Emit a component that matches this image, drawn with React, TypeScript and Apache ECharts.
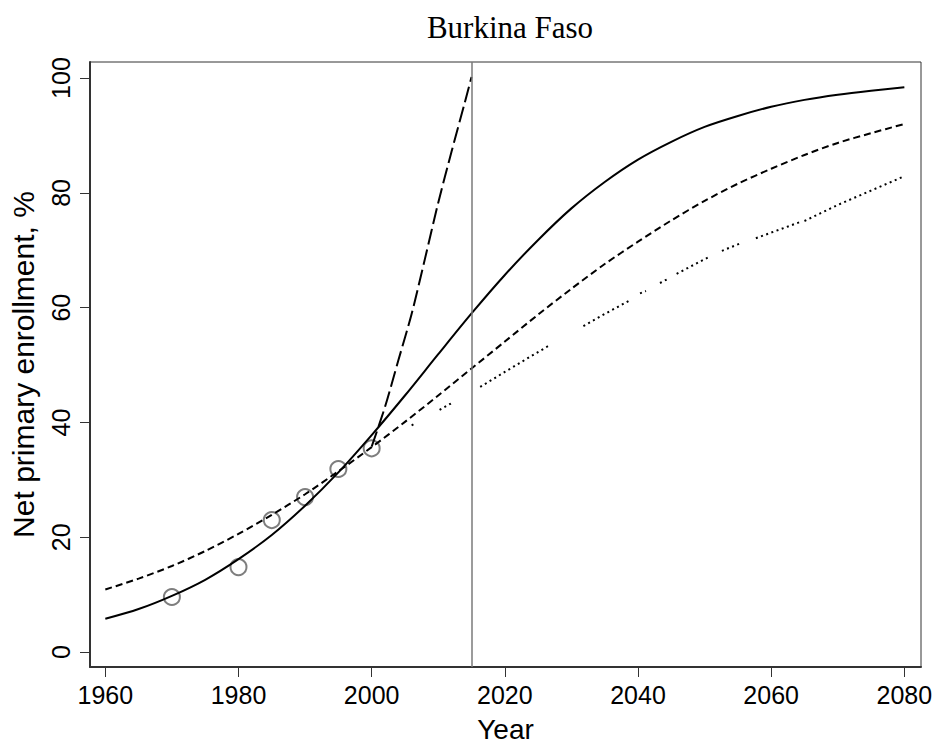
import React, { useEffect, useRef } from "react";
import * as echarts from "echarts";

// ---- data ----
const fitYears = [1960, 1965, 1970, 1975, 1980, 1985, 1990, 1995, 2000, 2005, 2010, 2015, 2020, 2025, 2030, 2035, 2040, 2045, 2050, 2055, 2060, 2065, 2070, 2075, 2080];
const solidFit = [5.8, 7.5, 9.8, 12.6, 16.2, 20.4, 25.5, 31.3, 37.8, 44.7, 51.9, 59.0, 65.7, 71.8, 77.3, 81.9, 85.8, 88.9, 91.5, 93.4, 95.0, 96.2, 97.1, 97.8, 98.4];
const dashedFit = [10.9, 12.8, 15.0, 17.6, 20.6, 23.9, 27.5, 31.5, 35.7, 40.1, 44.7, 49.4, 54.1, 58.8, 63.3, 67.6, 71.5, 75.2, 78.6, 81.6, 84.2, 86.6, 88.7, 90.4, 92.0];

const targetYears = [2000, 2002, 2004, 2006, 2008, 2010, 2012, 2014, 2015];
const targetValues = [35.8, 42.7, 50.8, 58.9, 68.5, 78.3, 87.2, 95.8, 100.2];

// dotted trend, as drawn (with visible breaks)
const dottedYears = [2006.0, 2006.7, 2008, 2010.2, 2011.9, 2014, 2016.3, 2020, 2024, 2026.5, 2029, 2031.8, 2035, 2038.8, 2039.5, 2040.3, 2041.2, 2042, 2043.3, 2044.3, 2045, 2045.8, 2050.6, 2051.6, 2052.6, 2055.6, 2057, 2057.7, 2064.3, 2064.6, 2065, 2070, 2075, 2080];
const dottedValues: (number | null)[] = [39.5, 39.9, null, 42.2, 43.3, null, 46.2, 48.8, 51.6, 53.3, null, 56.8, 58.9, 61.3, null, 62.5, 62.9, null, 64.3, 64.9, null, 65.9, 68.8, null, 69.9, 71.3, null, 72.1, 74.9, null, 75.1, 77.9, 80.4, 82.9];

const obsYears = [1970, 1980, 1985, 1990, 1995, 2000];
const obsValues = [9.6, 14.8, 23.0, 27.0, 31.9, 35.5];

const xTicks = [1960, 1980, 2000, 2020, 2040, 2060, 2080];
const yTicks = [0, 20, 40, 60, 80, 100];
const currentYear = 2015;

const SANS = "'Liberation Sans', Arial, Helvetica, sans-serif";
const SERIF = "'Liberation Serif', 'Times New Roman', Times, serif";

export default function App() {
  const ref = useRef<HTMLDivElement>(null);
  useEffect(() => {
    if (!ref.current) return;
    const chart = echarts.init(ref.current, undefined, { renderer: "svg" });
    const pair = (xs: number[], ys: (number | null)[]) =>
      xs.map((x, i) => [x, ys[i] === null ? "-" : ys[i]]);
    chart.setOption({
      animation: false,
      backgroundColor: "#ffffff",
      title: {
        text: "Burkina Faso",
        left: 505,
        top: 7,
        textAlign: "center",
        textStyle: { fontFamily: SERIF, fontSize: 31, fontWeight: "normal", color: "#000" },
      },
      grid: {
        left: 90,
        top: 62,
        right: 15,
        bottom: 84,
        show: true,
        borderColor: "#333",
        borderWidth: 1,
        backgroundColor: "transparent",
        containLabel: false,
        outerBoundsMode: "none",
      },
      xAxis: {
        type: "value",
        min: 1957.7,
        max: 2082.5,
        name: "Year",
        nameLocation: "middle",
        nameGap: 48,
        nameTextStyle: { fontFamily: SANS, fontSize: 28, color: "#000" },
        axisLine: { show: true, onZero: false, lineStyle: { color: "#333", width: 2 } },
        axisTick: { show: true, customValues: xTicks, length: 10, lineStyle: { color: "#333", width: 1 } },
        axisLabel: {
          customValues: xTicks,
          margin: 15,
          fontFamily: SANS,
          fontSize: 25,
          color: "#000",
          formatter: (v: number) => String(v),
        },
        splitLine: { show: false },
      },
      yAxis: {
        type: "value",
        min: -2.6,
        max: 102.8,
        name: "Net primary enrollment, %",
        nameLocation: "middle",
        nameRotate: 90,
        nameGap: 52,
        nameTextStyle: { fontFamily: SANS, fontSize: 30, color: "#000" },
        axisLine: { show: true, onZero: false, lineStyle: { color: "#333", width: 2 } },
        axisTick: { show: true, customValues: yTicks, length: 10, lineStyle: { color: "#333", width: 1 } },
        axisLabel: {
          customValues: yTicks,
          rotate: 90,
          margin: 17,
          fontFamily: SANS,
          fontSize: 25,
          color: "#000",
          formatter: (v: number) => String(v),
        },
        splitLine: { show: false },
      },
      series: [
        {
          name: "Observed",
          type: "scatter",
          data: pair(obsYears, obsValues),
          symbol: "circle",
          symbolSize: 16,
          itemStyle: { color: "transparent", borderColor: "#5e5e5e", borderWidth: 2 },
          z: 2,
          markLine: {
            silent: true,
            symbol: "none",
            label: { show: false },
            lineStyle: { color: "#7a7a7a", width: 1.5, type: "solid" },
            data: [{ xAxis: currentYear }],
          },
        },
        {
          name: "Logistic fit",
          type: "line",
          data: pair(fitYears, solidFit),
          showSymbol: false,
          smooth: 0.3,
          lineStyle: { color: "#000", width: 2, type: "solid" },
          z: 3,
        },
        {
          name: "Slow fit",
          type: "line",
          data: pair(fitYears, dashedFit),
          showSymbol: false,
          smooth: 0.3,
          lineStyle: { color: "#000", width: 2, type: [7, 4] },
          z: 3,
        },
        {
          name: "Target path",
          type: "line",
          data: pair(targetYears, targetValues),
          showSymbol: false,
          smooth: 0.3,
          lineStyle: { color: "#000", width: 2, type: [16, 5] },
          z: 3,
        },
        {
          name: "Dotted trend",
          type: "line",
          data: pair(dottedYears, dottedValues),
          showSymbol: false,
          connectNulls: false,
          lineStyle: { color: "#000", width: 2, type: [2, 3.5] },
          z: 3,
        },
      ],
    });
    return () => chart.dispose();
  }, []);
  return (
    <div
      ref={ref}
      style={{ position: "fixed", left: 0, top: 0, width: 936, height: 751, background: "#fff" }}
    />
  );
}
